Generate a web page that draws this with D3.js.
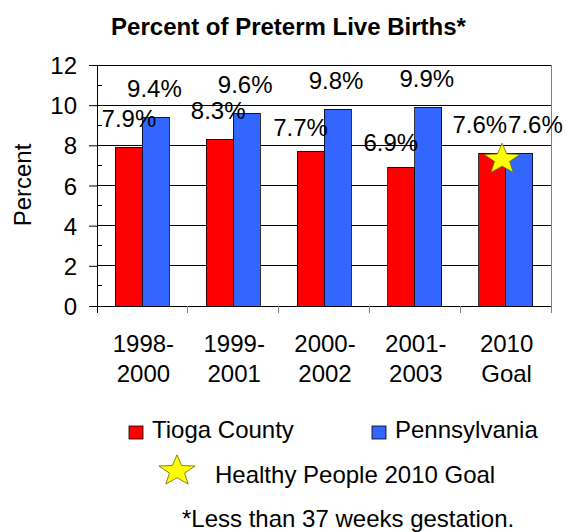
<!DOCTYPE html>
<html><head><meta charset="utf-8">
<script src="https://cdn.jsdelivr.net/npm/d3@7"></script>
<style>body{margin:0;background:#fff}svg{display:block}text{font-family:"Liberation Sans",Arial,sans-serif;fill:#000}</style>
</head><body><svg id="c" width="567" height="532"></svg>
<script>
const categories = [["1998-","2000"],["1999-","2001"],["2000-","2002"],["2001-","2003"],["2010","Goal"]];
const tioga = [7.9, 8.3, 7.7, 6.9, 7.6];
const pennsylvania = [9.4, 9.6, 9.8, 9.9, 7.6];
const goalValue = 7.6;
const yTicks = [0, 2, 4, 6, 8, 10, 12];
const seriesNames = ["Tioga County", "Pennsylvania"];
const colors = ["#FF0000", "#3366FF"];

const svg = d3.select("#c");
const m = {l: 97, r: 551, t: 65, b: 306};
const keys = categories.map((c,i)=>i);
const x = d3.scaleBand().domain(keys).range([m.l, m.r]).padding(0);
const y = d3.scaleLinear().domain([0, 12]).range([m.b, m.t]);
const bw = 27;
const FS = "24px";

// title
svg.append("text").attr("x", 288.5).attr("y", 35).attr("text-anchor","middle")
  .style("font-weight","bold").style("font-size",FS).text("Percent of Preterm Live Births*");

// gridlines
svg.append("g").selectAll("line").data(yTicks.filter(d=>d>0)).join("line")
  .attr("x1", m.l).attr("x2", m.r).attr("y1", d=>y(d)).attr("y2", d=>y(d))
  .attr("stroke","#000").attr("stroke-width",1).attr("shape-rendering","crispEdges");
// right border
svg.append("line").attr("x1", m.r).attr("x2", m.r).attr("y1", m.t).attr("y2", m.b)
  .attr("stroke","#808080").attr("shape-rendering","crispEdges");

// bars
const data = [];
keys.forEach(i => {
  data.push({i, s:0, v:tioga[i]});
  data.push({i, s:1, v:pennsylvania[i]});
});
svg.append("g").selectAll("rect").data(data).join("rect")
  .attr("x", d => x(d.i) + x.bandwidth()/2 - (d.s===0 ? bw : 0))
  .attr("y", d => y(d.v)).attr("width", bw).attr("height", d => y(0)-y(d.v))
  .attr("fill", d => colors[d.s]).attr("stroke","#000").attr("stroke-width",0.8)
  .attr("shape-rendering","crispEdges");

// y axis
const yAxis = d3.axisLeft(y).tickValues(yTicks).tickSize(8).tickPadding(12);
const ga = svg.append("g").attr("transform",`translate(${m.l},0)`).call(yAxis);
ga.select(".domain").attr("stroke","#000");
ga.selectAll(".tick line").attr("stroke","#000");
ga.selectAll(".tick text").style("font-size",FS).attr("dy","0.36em");
// minor ticks
svg.append("g").selectAll("line").data(d3.range(1,12,2)).join("line")
  .attr("x1", m.l).attr("x2", m.l+5).attr("y1", d=>y(d)).attr("y2", d=>y(d))
  .attr("stroke","#000").attr("shape-rendering","crispEdges");

// x axis
svg.append("line").attr("x1", m.l).attr("x2", m.r).attr("y1", y(0)).attr("y2", y(0))
  .attr("stroke","#000").attr("shape-rendering","crispEdges");
const xb = keys.map(i => x(i)).concat([m.r]);
svg.append("g").selectAll("line").data(xb).join("line")
  .attr("x1", d=>d).attr("x2", d=>d).attr("y1", y(0)).attr("y2", y(0)+7)
  .attr("stroke", (d,i)=> i===0 ? "#000" : "#808080").attr("shape-rendering","crispEdges");
const cl = svg.append("g").selectAll("text").data(keys).join("text")
  .attr("text-anchor","middle").style("font-size",FS);
cl.append("tspan").attr("x", i => x(i) + x.bandwidth()/2 + 1).attr("y", 352).text(i => categories[i][0]);
cl.append("tspan").attr("x", i => x(i) + x.bandwidth()/2 + 1).attr("y", 382).text(i => categories[i][1]);

// y label
svg.append("text").attr("transform","translate(31,185) rotate(-90)").attr("text-anchor","middle")
  .style("font-size",FS).text("Percent");

// value labels
const nudge = [[0,0],[-1.5,0],[-10,5],[-10.5,3.5],[0,0]];
svg.append("g").selectAll("text").data(data).join("text")
  .style("font-size",FS)
  .attr("text-anchor", d => d.i===4 ? (d.s===0 ? "end" : "start") : "middle")
  .attr("x", d => {
    const c = x(d.i) + x.bandwidth()/2;
    if (d.i===4) return d.s===0 ? c+1.5 : c+2.5;
    return c + (d.s===0 ? -bw/2 + nudge[d.i][0] : bw/2 - 1.5);
  })
  .attr("y", d => y(d.v) - 20 + (d.s===0 ? nudge[d.i][1] : 0))
  .text(d => d.v.toFixed(1) + "%");

// star
function starPath(cx, cy, r) {
  const pts = [];
  for (let k=0;k<10;k++){
    const a = -Math.PI/2 + k*Math.PI/5;
    const rr = k%2===0 ? r : r*0.42;
    pts.push([cx + rr*Math.cos(a), cy + rr*Math.sin(a)*0.85]);
  }
  return "M" + pts.map(p=>p.join(",")).join("L") + "Z";
}
const gx = x(4) + x.bandwidth()/2 - 3.5;
svg.append("path").attr("d", starPath(gx, y(goalValue)+6, 19))
  .attr("fill","#FFFF00").attr("stroke","#666600").attr("stroke-width",0.8);

// legend
const lg = [{x:129, s:0}, {x:372, s:1}];
lg.forEach(l => {
  svg.append("rect").attr("x", l.x).attr("y", 426).attr("width", 14).attr("height", 13)
    .attr("fill", colors[l.s]).attr("stroke","#000").attr("stroke-width",0.8);
  svg.append("text").attr("x", l.x + 23).attr("y", 438).style("font-size",FS).text(seriesNames[l.s]);
});
svg.append("path").attr("d", starPath(177, 471, 19))
  .attr("fill","#FFFF00").attr("stroke","#666600").attr("stroke-width",0.8);
svg.append("text").attr("x", 215).attr("y", 483).style("font-size",FS).text("Healthy People 2010 Goal");
svg.append("text").attr("x", 182).attr("y", 527).style("font-size",FS).text("*Less than 37 weeks gestation.");
</script></body></html>
